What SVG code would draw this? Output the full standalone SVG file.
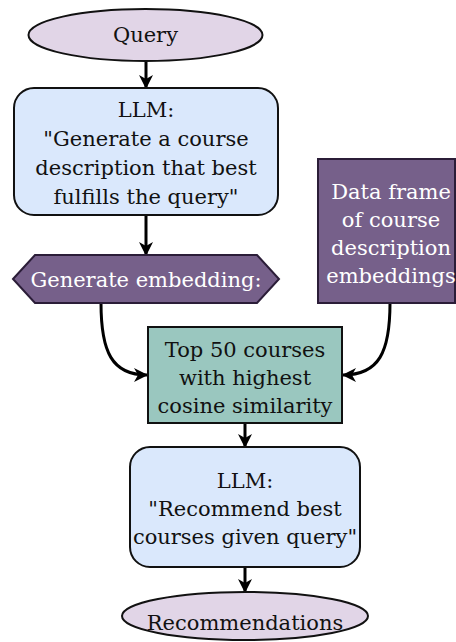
<svg xmlns="http://www.w3.org/2000/svg" width="456" height="642" viewBox="0 0 456 642">
<style>
text{font-family:"DejaVu Serif","Liberation Serif",serif;font-size:21px;text-anchor:middle;fill:#111}
.w{fill:#fff}
.term{fill:#e1d5e7;stroke:#111;stroke-width:2}
.llm{fill:#dae8fc;stroke:#111;stroke-width:2}
.pur{fill:#76608a;stroke:#2b1d38;stroke-width:2}
.teal{fill:#9ac7bf;stroke:#111;stroke-width:2}
.c{fill:none;stroke:#000;stroke-width:3;marker-end:url(#ah)}
</style>
<defs>
<marker id="ah" viewBox="0 0 14 14" refX="13" refY="7" markerWidth="14" markerHeight="14" markerUnits="userSpaceOnUse" orient="auto">
<path d="M0,0 L14,7 L0,14 L4,7 z" fill="#000"/>
</marker>
</defs>
<rect width="456" height="642" fill="#fff"/>
<g id="connectors">
<path class="c" d="M146,62 L146,88"/>
<path class="c" d="M146,215 L146,255"/>
<path class="c" d="M101,303 C101,352 112,375 147,375"/>
<path class="c" d="M390,303 C390,352 379,375 343,375"/>
<path class="c" d="M245,423 L245,447"/>
<path class="c" d="M245,567 L245,592"/>
</g>
<g id="query">
<ellipse class="term" cx="145.5" cy="35" rx="117" ry="26"/>
<text x="145.5" y="42">Query</text>
</g>
<g id="llm1">
<rect class="llm" x="14" y="88" width="264" height="127" rx="20"/>
<text x="146" y="117">LLM:</text>
<text x="146" y="146">"Generate a course</text>
<text x="146" y="175">description that best</text>
<text x="146" y="204">fulfills the query"</text>
</g>
<g id="embed">
<polygon class="pur" points="13,279 35,255 257,255 279,279 257,303 35,303"/>
<text class="w" x="146" y="287">Generate embedding:</text>
</g>
<g id="dataframe">
<rect class="pur" x="318" y="159" width="137" height="144"/>
<text class="w" x="391" y="199">Data frame</text>
<text class="w" x="391" y="227">of course</text>
<text class="w" x="391" y="255">description</text>
<text class="w" x="391" y="283">embeddings</text>
</g>
<g id="top50">
<rect class="teal" x="148" y="327" width="194" height="96"/>
<text x="245" y="357">Top 50 courses</text>
<text x="245" y="385">with highest</text>
<text x="245" y="413">cosine similarity</text>
</g>
<g id="llm2">
<rect class="llm" x="130" y="447" width="230" height="120" rx="20"/>
<text x="245" y="488">LLM:</text>
<text x="245" y="516">"Recommend best</text>
<text x="245" y="544">courses given query"</text>
</g>
<g id="recs">
<ellipse class="term" cx="245" cy="616" rx="123" ry="24"/>
<text x="245" y="630">Recommendations</text>
</g>
</svg>
